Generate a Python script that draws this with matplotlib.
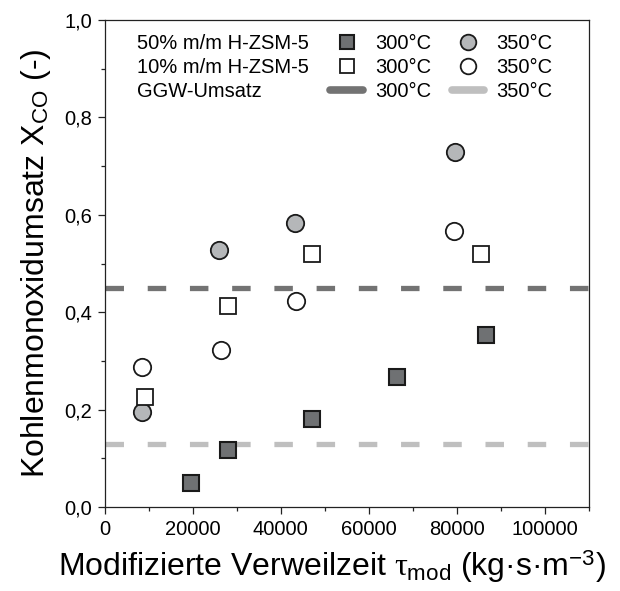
import matplotlib
matplotlib.use('Agg')
import matplotlib.pyplot as plt
from matplotlib.lines import Line2D
from matplotlib.ticker import MultipleLocator, FuncFormatter

plt.rcParams['font.family'] = ['Liberation Sans', 'DejaVu Sans']
plt.rcParams['mathtext.fontset'] = 'custom'
plt.rcParams['mathtext.rm'] = 'Liberation Sans'
plt.rcParams['mathtext.it'] = 'Liberation Serif'

# 50 % m/m H-ZSM-5, 300 °C
tau_50_300 = [19700, 28000, 47000, 66300, 86600]
x_50_300 = [0.049, 0.118, 0.180, 0.267, 0.353]
# 50 % m/m H-ZSM-5, 350 °C
tau_50_350 = [8550, 25900, 43100, 79600]
x_50_350 = [0.195, 0.527, 0.584, 0.729]
# 10 % m/m H-ZSM-5, 300 °C
tau_10_300 = [9200, 28000, 47100, 85500]
x_10_300 = [0.226, 0.412, 0.519, 0.519]
# 10 % m/m H-ZSM-5, 350 °C
tau_10_350 = [8550, 26300, 43500, 79400]
x_10_350 = [0.287, 0.322, 0.423, 0.567]
# equilibrium conversion
ggw_300 = 0.45
ggw_350 = 0.13

dark = '#6f7173'
light = '#b5b7b9'
edge = '#1a1a1a'
line_dark = '#737373'
line_light = '#bfbfbf'

fig = plt.figure(figsize=(6.2, 5.91), dpi=100)
ax = fig.add_axes([0.169, 0.142, 0.781, 0.824])

ax.axhline(ggw_300, color=line_dark, lw=3.8, dashes=(3.5, 4.5), zorder=1)
ax.axhline(ggw_350, color=line_light, lw=3.8, dashes=(3.5, 4.5), zorder=1)

ms = 11.5
ax.plot(tau_50_300, x_50_300, ls='none', marker='s', ms=ms, mfc=dark, mec=edge, mew=1.5, zorder=3)
ax.plot(tau_50_350, x_50_350, ls='none', marker='o', ms=ms + 1, mfc=light, mec=edge, mew=1.3, zorder=3)
ax.plot(tau_10_300, x_10_300, ls='none', marker='s', ms=ms, mfc='white', mec=edge, mew=1.3, zorder=3)
ax.plot(tau_10_350, x_10_350, ls='none', marker='o', ms=ms + 1, mfc='white', mec=edge, mew=1.3, zorder=3)

ax.set_xlim(0, 110000)
ax.set_ylim(0, 1.0)
ax.xaxis.set_major_locator(MultipleLocator(20000))
ax.xaxis.set_minor_locator(MultipleLocator(10000))
ax.yaxis.set_major_locator(MultipleLocator(0.2))
ax.yaxis.set_minor_locator(MultipleLocator(0.1))
ax.xaxis.set_major_formatter(FuncFormatter(lambda v, p: '%d' % v if v <= 100000 else ''))
ax.yaxis.set_major_formatter(FuncFormatter(lambda v, p: ('%.1f' % v).replace('.', ',')))
ax.tick_params(which='both', direction='out', top=False, right=False, labelsize=14.5, color='#222222')
ax.tick_params(which='major', length=5, width=0.9, pad=4)
ax.tick_params(which='minor', length=3, width=0.9)
for s in ax.spines.values():
    s.set_linewidth(0.9)
    s.set_color('#222222')

ax.set_xlabel('Modifizierte Verweilzeit $\\tau_{\\mathrm{mod}}$ (kg·s·m$^{\\mathrm{-3}}$)',
              fontsize=23)
ax.xaxis.set_label_coords(0.47, -0.085)
ax.set_ylabel('Kohlenmonoxidumsatz X$_{\\mathrm{CO}}$ (-)', fontsize=23, labelpad=8)

blank = Line2D([], [], ls='none')
handles = [
    blank, blank, blank,
    Line2D([], [], ls='none', marker='s', ms=ms, mfc=dark, mec=edge, mew=1.5),
    Line2D([], [], ls='none', marker='s', ms=ms, mfc='white', mec=edge, mew=1.3),
    Line2D([], [], color=line_dark, lw=5.5, solid_capstyle='round'),
    Line2D([], [], ls='none', marker='o', ms=ms + 1, mfc=light, mec=edge, mew=1.3),
    Line2D([], [], ls='none', marker='o', ms=ms + 1, mfc='white', mec=edge, mew=1.3),
    Line2D([], [], color=line_light, lw=5.5, solid_capstyle='round'),
]
labels = ['50% m/m H-ZSM-5', '10% m/m H-ZSM-5', 'GGW-Umsatz',
          '300°C', '300°C', '300°C',
          '350°C', '350°C', '350°C']
ax.legend(handles, labels, ncol=3, loc='upper left', bbox_to_anchor=(-0.024, 0.972),
          frameon=False, fontsize=14.5, handlelength=1.6, handletextpad=0.6,
          columnspacing=1.05, labelspacing=0.26, borderpad=0, borderaxespad=0,
          markerscale=0.9)

fig.savefig('out.png', dpi=100)
